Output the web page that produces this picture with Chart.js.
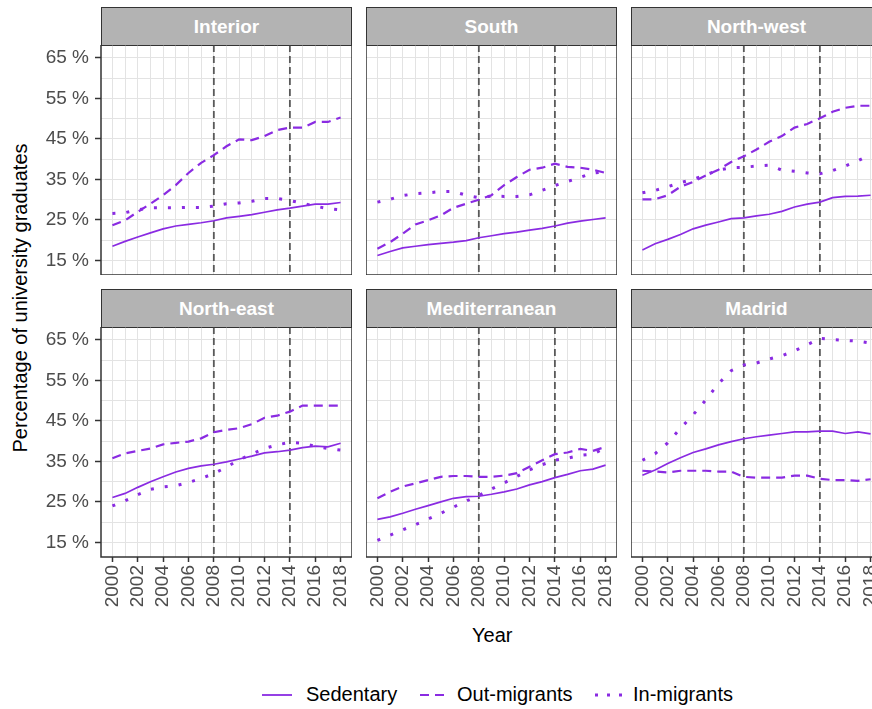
<!DOCTYPE html>
<html>
<head>
<meta charset="utf-8">
<script src="https://cdn.jsdelivr.net/npm/chart.js@4.4.1/dist/chart.umd.min.js"></script>
<style>
  body { margin: 0; background: #fff; font-family: "Liberation Sans", Arial, sans-serif; }
  #wrap { position: relative; width: 872px; height: 709px; overflow: hidden; }
  .strip { position: absolute; box-sizing: border-box; background: #b3b3b3; border: 1.5px solid #333;
           color: #fff; font-weight: bold; font-size: 19px; display: flex; align-items: center; justify-content: center; }
  canvas { position: absolute; }
  .title { position: absolute; font-size: 20px; color: #000; white-space: nowrap; }
  .leg { position: absolute; top: 683px; font-size: 20px; color: #000; white-space: nowrap; }
  svg { position: absolute; }
</style>
</head>
<body>
<div id="wrap">
  <div class="title" id="ytitle">Percentage of university graduates</div>
  <div class="title" style="left:472px;top:624px;">Year</div>
  <svg width="872" height="709" style="left:0;top:0;">
    <line x1="262" y1="695" x2="292" y2="695" stroke="#8A2BE2" stroke-width="1.8"/>
    <line x1="420" y1="695" x2="450" y2="695" stroke="#8A2BE2" stroke-width="2.2" stroke-dasharray="9 6"/>
    <line x1="595" y1="695" x2="625" y2="695" stroke="#8A2BE2" stroke-width="3" stroke-dasharray="3 9"/>
  </svg>
  <div class="leg" style="left:306px;">Sedentary</div>
  <div class="leg" style="left:457px;">Out-migrants</div>
  <div class="leg" style="left:633px;">In-migrants</div>
</div>
<script>
const years = [2000, 2001, 2002, 2003, 2004, 2005, 2006, 2007, 2008, 2009, 2010, 2011, 2012, 2013, 2014, 2015, 2016, 2017, 2018];
const regions = ['Interior', 'South', 'North-west', 'North-east', 'Mediterranean', 'Madrid'];
const seriesNames = ['Sedentary', 'Out-migrants', 'In-migrants'];
const breakYears = [2008, 2014];
const yTicks = [15, 20, 25, 30, 35, 40, 45, 50, 55, 60, 65];

const interiorSedentary = [18.5, 19.7, 20.8, 21.8, 22.8, 23.5, 23.9, 24.3, 24.8, 25.5, 25.9, 26.3, 26.9, 27.5, 27.9, 28.4, 28.9, 28.9, 29.3];
const interiorOut = [23.7, 24.9, 27.0, 29.0, 31.1, 33.6, 36.6, 39.1, 41.0, 43.2, 44.9, 44.7, 45.7, 47.2, 47.8, 47.8, 49.2, 49.2, 50.3];
const interiorIn = [26.6, 26.8, 27.5, 28.0, 28.0, 28.0, 28.1, 28.1, 28.4, 29.0, 29.2, 29.6, 30.3, 30.3, 29.8, 29.1, 28.4, 27.8, 27.5];

const southSedentary = [16.2, 17.2, 18.1, 18.5, 18.9, 19.2, 19.5, 19.9, 20.6, 21.1, 21.6, 22.0, 22.5, 22.9, 23.5, 24.2, 24.7, 25.1, 25.5];
const southOut = [17.9, 19.5, 21.6, 23.9, 24.9, 26.1, 28.0, 29.0, 30.0, 31.1, 33.6, 35.6, 37.4, 37.9, 38.9, 38.1, 37.9, 37.4, 36.6];
const southIn = [29.4, 30.1, 31.0, 31.5, 31.7, 32.0, 32.0, 31.1, 30.5, 30.9, 30.8, 30.8, 31.2, 32.3, 33.5, 34.5, 35.5, 36.6, 36.9];

const northWestSedentary = [17.6, 19.1, 20.2, 21.4, 22.8, 23.7, 24.5, 25.3, 25.5, 26.0, 26.4, 27.1, 28.2, 28.9, 29.4, 30.5, 30.8, 30.9, 31.1];
const northWestOut = [30.1, 30.1, 31.1, 33.2, 34.4, 36.0, 37.4, 39.3, 40.7, 42.4, 44.3, 45.7, 47.8, 48.7, 50.1, 51.7, 52.7, 53.2, 53.2];
const northWestIn = [31.7, 32.3, 33.2, 34.2, 35.0, 36.1, 37.3, 37.9, 38.0, 38.3, 38.5, 37.3, 37.0, 36.6, 36.4, 37.2, 38.3, 39.6, 41.2];

const northEastSedentary = [26.1, 27.1, 28.6, 30.0, 31.2, 32.4, 33.3, 33.9, 34.3, 34.9, 35.6, 36.3, 37.1, 37.4, 37.8, 38.4, 38.8, 38.6, 39.5];
const northEastOut = [35.8, 37.0, 37.6, 38.2, 39.2, 39.6, 39.9, 40.7, 42.2, 42.8, 43.2, 44.2, 45.8, 46.3, 47.3, 48.8, 48.8, 48.8, 48.8];
const northEastIn = [24.0, 25.3, 26.8, 28.1, 28.7, 29.0, 29.8, 30.8, 32.0, 33.6, 35.4, 36.8, 38.2, 39.1, 39.7, 39.5, 38.7, 38.2, 37.8];

const medSedentary = [20.7, 21.3, 22.2, 23.2, 24.1, 25.0, 25.9, 26.3, 26.4, 26.9, 27.5, 28.2, 29.2, 30.0, 31.0, 31.8, 32.7, 33.1, 34.1];
const medOut = [25.9, 27.5, 28.8, 29.6, 30.4, 31.2, 31.4, 31.4, 31.2, 31.2, 31.5, 32.1, 33.7, 35.3, 36.8, 37.2, 38.1, 37.6, 38.6];
const medIn = [15.5, 16.8, 18.1, 19.4, 20.8, 22.2, 23.7, 25.2, 26.6, 28.2, 29.7, 31.3, 32.9, 34.2, 35.3, 35.8, 36.5, 36.8, 38.4];

const madridSedentary = [31.6, 32.9, 34.5, 35.9, 37.2, 38.1, 39.1, 39.9, 40.6, 41.1, 41.5, 41.9, 42.3, 42.3, 42.5, 42.5, 41.9, 42.3, 41.8];
const madridOut = [32.7, 32.5, 32.3, 32.7, 32.7, 32.7, 32.5, 32.5, 31.2, 31.0, 31.0, 31.0, 31.5, 31.5, 30.7, 30.4, 30.4, 30.2, 30.6];
const madridIn = [35.3, 36.9, 39.6, 43.2, 46.5, 50.2, 54.2, 57.4, 58.8, 59.3, 60.3, 61.1, 62.3, 63.8, 65.4, 65.1, 64.9, 64.7, 64.2];

const panelSeries = [
  [interiorSedentary, interiorOut, interiorIn],
  [southSedentary, southOut, southIn],
  [northWestSedentary, northWestOut, northWestIn],
  [northEastSedentary, northEastOut, northEastIn],
  [medSedentary, medOut, medIn],
  [madridSedentary, madridOut, madridIn]
];

const purple = '#8A2BE2';
const lineStyles = [
  { borderWidth: 1.7, borderDash: [] },
  { borderWidth: 2.2, borderDash: [9, 6] },
  { borderWidth: 3, borderDash: [3, 11] }
];
const tickFont = { family: '"Liberation Sans", Arial, sans-serif', size: 19 };

// panel geometry
const colX = [101, 366, 631];
const rowY = [45, 327];
const plotW = 251, plotH = 230;
const stripH = 38;
const leftAxisW = 61, bottomAxisH = 60;

const wrap = document.getElementById('wrap');
const yt = document.getElementById('ytitle');
yt.style.left = '20px';
yt.style.top = '298px';
yt.style.transform = 'translate(-50%, -50%) rotate(-90deg)';

// dashed reference years + panel border
const framePlugin = {
  id: 'frame',
  beforeDatasetsDraw(chart) {
    const { ctx, chartArea: a, scales } = chart;
    ctx.save();
    ctx.strokeStyle = '#595959';
    ctx.lineWidth = 1.8;
    ctx.setLineDash([7, 4]);
    breakYears.forEach(yr => {
      const x = scales.x.getPixelForValue(yr);
      ctx.beginPath();
      ctx.moveTo(x, a.top);
      ctx.lineTo(x, a.bottom);
      ctx.stroke();
    });
    ctx.restore();
  },
  afterDraw(chart) {
    const { ctx, chartArea: a } = chart;
    ctx.save();
    ctx.strokeStyle = '#333';
    ctx.lineWidth = 1.5;
    ctx.strokeRect(a.left, a.top, a.right - a.left, a.bottom - a.top);
    ctx.restore();
  }
};

regions.forEach((name, i) => {
  const col = i % 3, row = Math.floor(i / 3);
  const showY = col === 0, showX = row === 1;

  const strip = document.createElement('div');
  strip.className = 'strip';
  strip.textContent = name;
  strip.style.left = colX[col] + 'px';
  strip.style.top = (rowY[row] - stripH) + 'px';
  strip.style.width = plotW + 'px';
  strip.style.height = (stripH + 1) + 'px';
  wrap.appendChild(strip);

  const canvas = document.createElement('canvas');
  const lw = showY ? leftAxisW : 0;
  const bh = showX ? bottomAxisH : 0;
  canvas.width = plotW + lw;
  canvas.height = plotH + bh;
  canvas.style.left = (colX[col] - lw) + 'px';
  canvas.style.top = rowY[row] + 'px';
  wrap.appendChild(canvas);

  const datasets = panelSeries[i].map((vals, s) => ({
    label: seriesNames[s],
    data: years.map((yr, k) => ({ x: yr, y: vals[k] })),
    borderColor: purple,
    borderWidth: lineStyles[s].borderWidth,
    borderDash: lineStyles[s].borderDash,
    borderCapStyle: 'butt',
    pointRadius: 0,
    tension: 0,
    fill: false
  }));

  new Chart(canvas, {
    type: 'line',
    data: { datasets },
    options: {
      responsive: false,
      animation: false,
      layout: { padding: 0 },
      plugins: { legend: { display: false }, tooltip: { enabled: false } },
      scales: {
        x: {
          type: 'linear',
          min: 1999.1,
          max: 2018.9,
          afterBuildTicks: scale => { scale.ticks = years.map(v => ({ value: v })); },
          afterFit: scale => {
            scale.height = bh;
            scale.paddingLeft = 0;
            scale.paddingRight = 0;
          },
          border: { display: false },
          grid: {
            color: '#e3e3e3',
            lineWidth: 1,
            drawTicks: showX,
            tickLength: 5,
            tickWidth: 1.5,
            tickColor: ctx => (ctx.tick && ctx.tick.value % 2 === 0) ? '#333' : 'rgba(0,0,0,0)'
          },
          ticks: {
            display: showX,
            autoSkip: false,
            minRotation: 90,
            maxRotation: 90,
            padding: 3,
            color: '#4d4d4d',
            font: tickFont,
            callback: v => (v % 2 === 0 ? String(v) : '')
          }
        },
        y: {
          min: 11.4,
          max: 68.2,
          afterBuildTicks: scale => { scale.ticks = yTicks.map(v => ({ value: v })); },
          afterFit: scale => {
            scale.width = lw;
            scale.paddingTop = 0;
            scale.paddingBottom = 0;
          },
          border: { display: false },
          grid: {
            color: '#e3e3e3',
            lineWidth: 1,
            drawTicks: showY,
            tickLength: 6,
            tickWidth: 1.5,
            tickColor: ctx => (ctx.tick && (ctx.tick.value - 15) % 10 === 0) ? '#333' : 'rgba(0,0,0,0)'
          },
          ticks: {
            display: showY,
            autoSkip: false,
            padding: 6,
            color: '#4d4d4d',
            font: tickFont,
            callback: v => ((v - 15) % 10 === 0 ? v + ' %' : '')
          }
        }
      }
    },
    plugins: [framePlugin]
  });
});
</script>
</body>
</html>
